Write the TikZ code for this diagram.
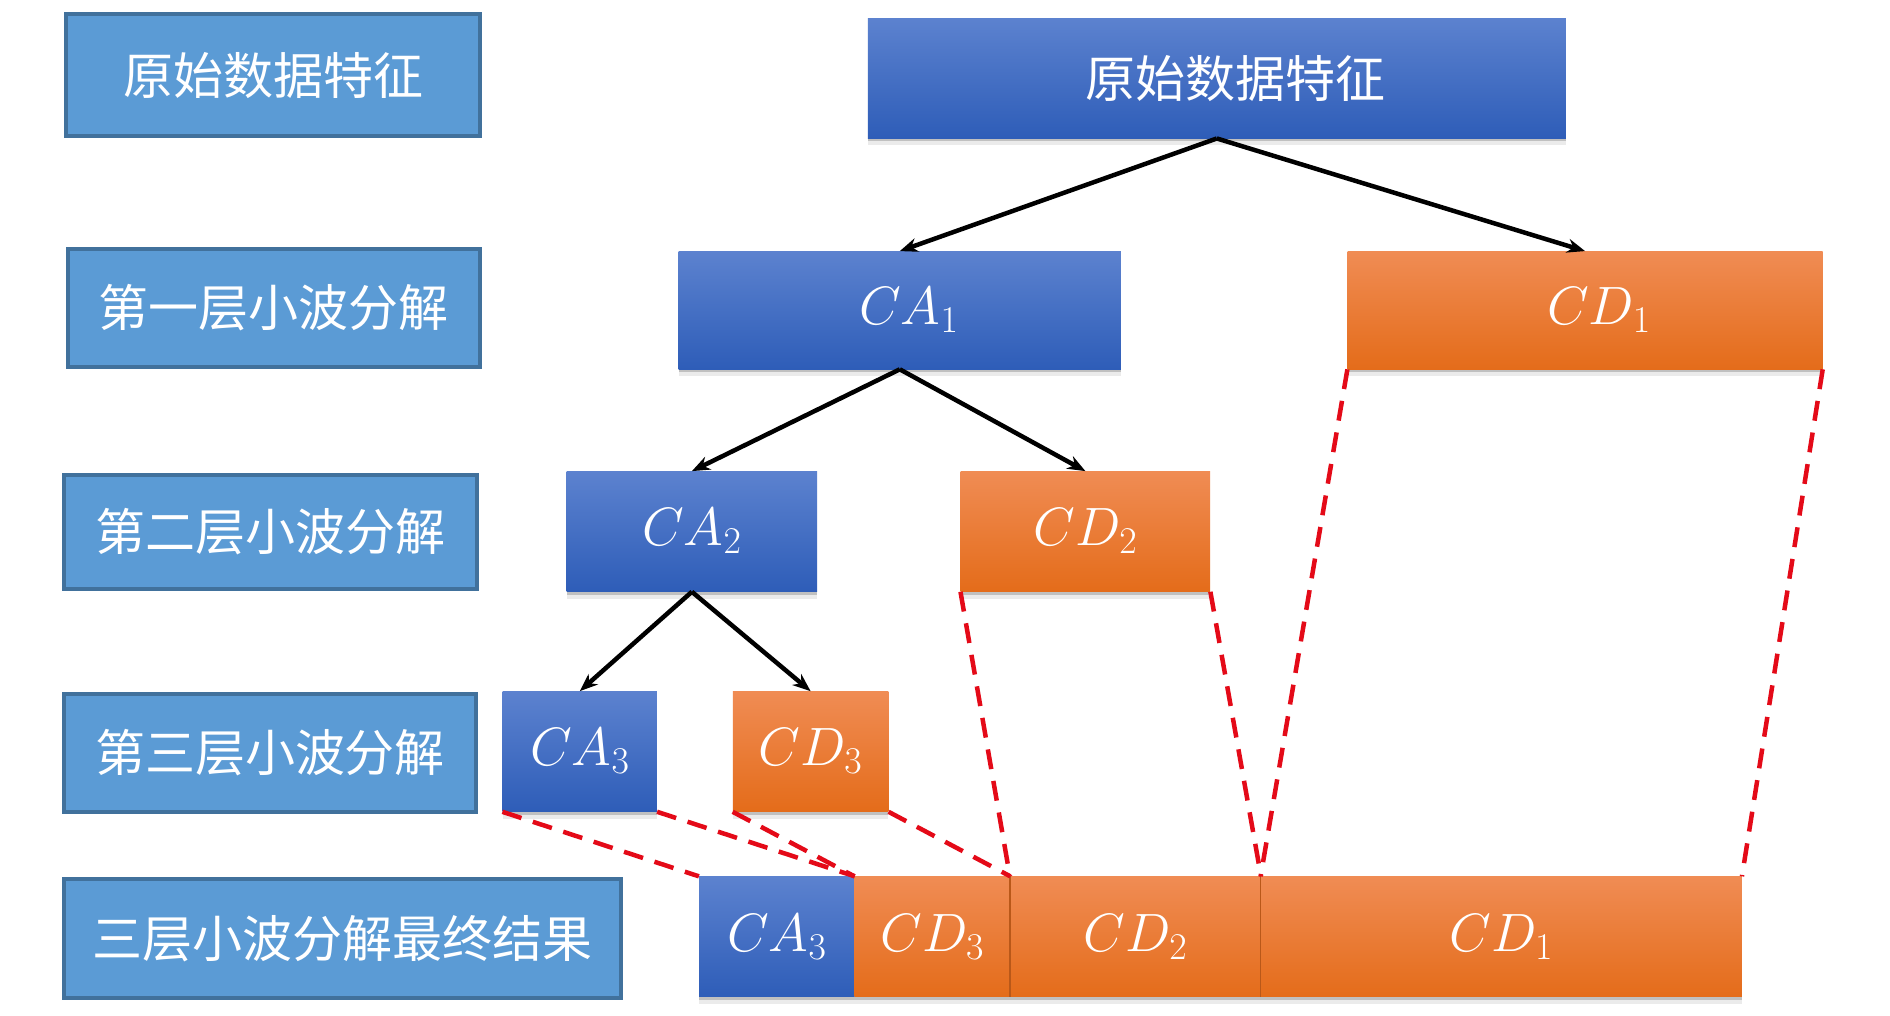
\RequirePackage{fix-cm}
\documentclass[tikz,border=0pt]{standalone}
\usepackage{fontspec}
\newfontfamily\cjk{Noto Sans CJK SC}
\usetikzlibrary{shadows,arrows.meta}
\definecolor{lblfill}{RGB}{91,155,213}
\definecolor{lbldraw}{RGB}{65,113,156}
\definecolor{bluetop}{RGB}{92,130,207}
\definecolor{bluebot}{RGB}{46,93,184}
\definecolor{orgtop}{RGB}{240,140,84}
\definecolor{orgbot}{RGB}{228,108,26}
\definecolor{dashred}{RGB}{228,10,24}
\definecolor{sepcol}{RGB}{185,88,25}
\tikzset{
  lbl/.style={fill=lblfill, draw=lbldraw, line width=4pt, inner sep=0pt,
    text=white, font=\cjk\fontsize{50}{50}\selectfont},
  softshadow/.style={
    drop shadow={shadow xshift=0pt,shadow yshift=-3pt,opacity=0.18,fill=black},
    drop shadow={shadow xshift=0pt,shadow yshift=-7pt,opacity=0.08,fill=black}},
  bluebox/.style={softshadow, top color=bluetop, bottom color=bluebot,
    inner sep=0pt, text=white, font=\fontsize{54}{54}\selectfont},
  orgbox/.style={softshadow, top color=orgtop, bottom color=orgbot,
    inner sep=0pt, text=white, font=\fontsize{54}{54}\selectfont},
  cjktext/.style={font=\cjk\fontsize{50}{50}\selectfont},
  arr/.style={draw=black, line width=4.5pt, -{Stealth[length=18pt,width=14pt]}},
  reddash/.style={draw=dashred, line width=4.5pt, dash pattern=on 20pt off 12pt},
  sepl/.style={draw=sepcol, line width=1.5pt}
}
% name, style, x1, y1, x2, y2, text
\newcommand\bx[7]{%
  \pgfmathsetmacro\bxw{(#5-#3)*1.2054}%
  \pgfmathsetmacro\bxh{(#6-#4)*1.2024}%
  \node[#2, minimum width=\bxw pt, minimum height=\bxh pt] (#1)
    at ({(#3+#5)/2},{(#4+#6)/2}) {#7};}
\begin{document}
\begin{tikzpicture}[x=1.2054pt,y=-1.2024pt]
\useasboundingbox[fill=white] (0,0) rectangle (1568,845);
% left labels
\bx{L0}{lbl}{55}{12}{398}{113}{原始数据特征}
\bx{L1}{lbl}{56}{207}{398}{305}{第一层小波分解}
\bx{L2}{lbl}{53}{395}{396}{490}{第二层小波分解}
\bx{L3}{lbl}{53}{577}{395}{675}{第三层小波分解}
\bx{L4}{lbl}{53}{731}{515}{830}{三层小波分解最终结果}
% tree
\bx{T0}{bluebox,cjktext}{720}{15}{1299}{115}{\hspace*{38pt}原始数据特征}
\bx{CA1}{bluebox}{563}{209}{930}{307}{\hspace*{18pt}$CA_1$}
\bx{CD1}{orgbox}{1118}{209}{1512}{307}{\hspace*{28pt}$CD_1$}
\bx{CA2}{bluebox}{470}{392}{678}{492}{$CA_2$}
\bx{CD2}{orgbox}{797}{392}{1004}{492}{$CD_2$}
\bx{CA3}{bluebox}{417}{575}{545}{675}{$CA_3$}
\bx{CD3}{orgbox}{608}{575}{737}{675}{$CD_3$}
% bottom row
\bx{bCA3}{bluebox}{580}{729}{709}{829}{$CA_3$}
\bx{bCD3}{orgbox}{709}{729}{838}{829}{$CD_3$}
\bx{bCD2}{orgbox}{838}{729}{1046}{829}{$CD_2$}
\bx{bCD1}{orgbox}{1046}{729}{1445}{829}{$CD_1$}
\draw[sepl] (bCD2.north west) -- (bCD2.south west);
\draw[sepl] (bCD1.north west) -- (bCD1.south west);
% arrows
\draw[arr] (T0.south) -- (CA1.north);
\draw[arr] (T0.south) -- (CD1.north);
\draw[arr] (CA1.south) -- (CA2.north);
\draw[arr] (CA1.south) -- (CD2.north);
\draw[arr] (CA2.south) -- (CA3.north);
\draw[arr] (CA2.south) -- (CD3.north);
% dashed mapping lines
\draw[reddash] (CA3.south west) -- (bCA3.north west);
\draw[reddash] (CA3.south east) -- (bCA3.north east);
\draw[reddash] (CD3.south west) -- (bCD3.north west);
\draw[reddash] (CD3.south east) -- (bCD3.north east);
\draw[reddash] (CD2.south west) -- (bCD2.north west);
\draw[reddash] (CD2.south east) -- (bCD2.north east);
\draw[reddash] (CD1.south west) -- (bCD1.north west);
\draw[reddash] (CD1.south east) -- (bCD1.north east);
\end{tikzpicture}
\end{document}
